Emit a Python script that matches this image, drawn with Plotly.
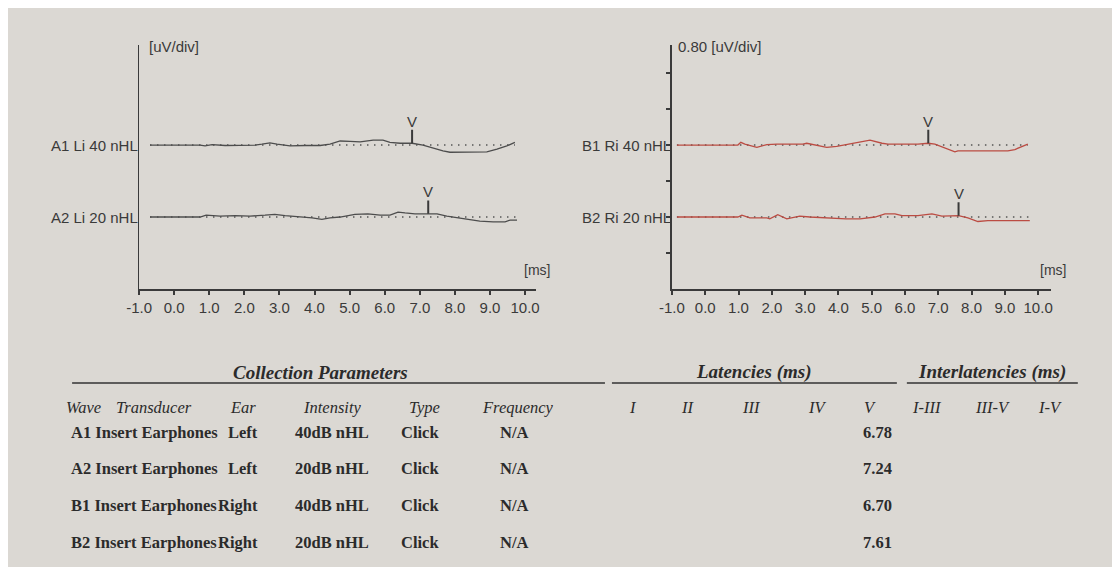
import numpy as np
import plotly.graph_objects as go

# ---------------- data ----------------
UV_PER_DIV = 0.80
ms_ticks = [-1.0, 0.0, 1.0, 2.0, 3.0, 4.0, 5.0, 6.0, 7.0, 8.0, 9.0, 10.0]
ms_tick_labels = ["-1.0", "0.0", "1.0", "2.0", "3.0", "4.0", "5.0", "6.0", "7.0", "8.0", "9.0", "10.0"]

# waveform samples (time in ms, amplitude deviation in uV)
a1_ms = [-0.69, -0.12, 0.74, 0.88, 1.08, 1.45, 1.88, 2.30, 2.50, 2.73, 2.93, 3.30, 3.73, 4.16, 4.44,
         4.73, 5.01, 5.30, 5.67, 5.95, 6.15, 6.44, 6.72, 6.78, 7.09, 7.29, 7.66, 7.86, 8.29, 8.57,
         8.91, 9.20, 9.48, 9.71]
a1_uv = [0.00, 0.00, 0.00, -0.02, 0.01, -0.01, -0.01, 0.00, 0.02, 0.05, 0.02, -0.02, -0.01, -0.01, 0.02,
         0.09, 0.08, 0.07, 0.11, 0.11, 0.06, 0.04, 0.04, 0.04, 0.00, -0.05, -0.13, -0.16, -0.16, -0.16,
         -0.15, -0.09, -0.02, 0.06]

a2_ms = [-0.69, 0.74, 0.91, 1.31, 1.74, 2.16, 2.59, 2.87, 3.16, 3.59, 3.93, 4.21, 4.44, 4.73, 5.15,
         5.52, 5.87, 6.15, 6.38, 6.58, 6.86, 7.24, 7.49, 7.77, 8.23, 8.71, 9.09, 9.43, 9.57, 9.77]
a2_uv = [0.00, 0.00, 0.04, 0.02, 0.03, 0.02, 0.04, 0.06, 0.03, 0.01, -0.02, -0.05, -0.02, 0.00, 0.06,
         0.07, 0.04, 0.04, 0.11, 0.09, 0.07, 0.07, 0.07, 0.02, -0.04, -0.09, -0.11, -0.11, -0.07, -0.07]

b1_ms = [-0.85, 0.98, 1.07, 1.19, 1.55, 1.85, 2.15, 2.93, 3.05, 3.35, 3.65, 3.95, 4.50, 4.95, 5.31,
         5.49, 6.39, 6.60, 6.70, 6.90, 7.11, 7.50, 7.59, 9.09, 9.30, 9.51, 9.69]
b1_uv = [0.00, 0.00, 0.06, 0.02, -0.05, 0.01, 0.02, 0.02, 0.04, 0.00, -0.05, -0.03, 0.04, 0.11, 0.04,
         0.02, 0.02, 0.04, 0.04, 0.02, -0.04, -0.15, -0.13, -0.13, -0.10, -0.04, 0.02]

b2_ms = [-0.85, 0.98, 1.10, 1.34, 1.85, 1.94, 2.18, 2.45, 2.84, 3.14, 4.23, 4.65, 5.10, 5.40, 5.70,
         5.91, 6.39, 6.81, 7.11, 7.41, 7.61, 7.89, 8.19, 8.49, 9.21, 9.51, 9.75]
b2_uv = [0.00, 0.00, 0.04, -0.02, -0.02, -0.04, 0.05, -0.04, 0.02, 0.00, -0.04, -0.04, 0.00, 0.07, 0.07,
         0.03, 0.03, 0.07, 0.02, 0.02, 0.03, -0.02, -0.10, -0.08, -0.08, -0.07, -0.08]

# table data
waves = ["A1", "A2", "B1", "B2"]
transducers = ["Insert Earphones"] * 4
ears = ["Left", "Left", "Right", "Right"]
intensities = ["40dB nHL", "20dB nHL", "40dB nHL", "20dB nHL"]
stim_types = ["Click", "Click", "Click", "Click"]
frequencies = ["N/A", "N/A", "N/A", "N/A"]
latency_v = [6.78, 7.24, 6.70, 7.61]
trace_labels = ["A1 Li 40 nHL", "A2 Li 20 nHL", "B1 Ri 40 nHL", "B2 Ri 20 nHL"]

# ---------------- styling ----------------
OFF = 8                      # page margin of the host page
W, H = 1120 - OFF, 567 - OFF
XS, XB = 0.985, 13.0         # horizontal placement calibration
BG = "#dbd8d3"
INK = "#3a3a3a"
BLACK_TRACE = "#4d4d4d"
RED_TRACE = "#bb4c43"
SANS = "Liberation Sans, Arial, sans-serif"
SERIF = "Liberation Serif, Times New Roman, serif"


def PX(x):
    xc = (x - XB) / XS
    return (xc - OFF) / W


def PY(y):
    return 1 - (y - OFF) / H


series = [
    dict(ms=a1_ms, uv=a1_uv, lat=latency_v[0], level=4, panel=1, color=BLACK_TRACE),
    dict(ms=a2_ms, uv=a2_uv, lat=latency_v[1], level=2, panel=1, color=BLACK_TRACE),
    dict(ms=b1_ms, uv=b1_uv, lat=latency_v[2], level=4, panel=2, color=RED_TRACE),
    dict(ms=b2_ms, uv=b2_uv, lat=latency_v[3], level=2, panel=2, color=RED_TRACE),
]

fig = go.Figure()
annotations = []
STEM = 0.30  # uV

for i, s in enumerate(series):
    xa = "x" if s["panel"] == 1 else "x2"
    ya = "y" if s["panel"] == 1 else "y2"
    base = s["level"] * UV_PER_DIV
    ms = np.array(s["ms"])
    y = base + np.array(s["uv"])
    fig.add_trace(go.Scatter(x=[ms[0], ms[-1]], y=[base, base], mode="lines", xaxis=xa, yaxis=ya,
                             line=dict(color="#555555", width=1.6, dash="1.5px,5.5px"),
                             hoverinfo="skip", showlegend=False))
    fig.add_trace(go.Scatter(x=ms, y=y, mode="lines", xaxis=xa, yaxis=ya,
                             line=dict(color=s["color"], width=1.3),
                             hoverinfo="skip", showlegend=False))
    yv = float(np.interp(s["lat"], ms, y))
    fig.add_trace(go.Scatter(x=[s["lat"], s["lat"]], y=[yv, yv + STEM], mode="lines", xaxis=xa, yaxis=ya,
                             line=dict(color=INK, width=2), hoverinfo="skip", showlegend=False))
    annotations.append(dict(x=s["lat"], y=yv + STEM, xref=xa, yref=ya, text="V", showarrow=False,
                            xanchor="center", yanchor="bottom", yshift=-2,
                            font=dict(family=SANS, size=15, color=INK)))
    annotations.append(dict(x=-1.0, y=base, xref=xa, yref=ya, text=trace_labels[i], showarrow=False,
                            xanchor="right", yanchor="middle", xshift=1,
                            font=dict(family=SANS, size=15, color=INK)))

annotations += [
    dict(x=PX(147), y=PY(46), xref="paper", yref="paper", text="[uV/div]", showarrow=False,
         xanchor="left", yanchor="middle", font=dict(family=SANS, size=15, color=INK)),
    dict(x=PX(676), y=PY(46), xref="paper", yref="paper", text="0.80 [uV/div]", showarrow=False,
         xanchor="left", yanchor="middle", font=dict(family=SANS, size=15, color=INK)),
    dict(x=PX(522), y=PY(270), xref="paper", yref="paper", text="[ms]", showarrow=False,
         xanchor="left", yanchor="middle", font=dict(family=SANS, size=14, color=INK)),
    dict(x=PX(1038), y=PY(270), xref="paper", yref="paper", text="[ms]", showarrow=False,
         xanchor="left", yanchor="middle", font=dict(family=SANS, size=14, color=INK)),
]


# ---------------- table ----------------
def tx(x, y, text, anchor="left", size=16.5, bold=False, italic=False):
    t = text
    if italic:
        t = f"<i>{t}</i>"
    if bold:
        t = f"<b>{t}</b>"
    annotations.append(dict(x=PX(x), y=PY(y), xref="paper", yref="paper", text=t, showarrow=False,
                            xanchor=anchor, yanchor="middle",
                            font=dict(family=SERIF, size=size, color="#2b2b2b")))


tx(320, 372, "Collection Parameters", "center", 19, True, True)
tx(754, 372, "Latencies (ms)", "center", 19, True, True)
tx(992, 372, "Interlatencies (ms)", "center", 19, True, True)

hdr_y = 407
tx(64, hdr_y, "Wave", "left", 16.5, False, True)
tx(114, hdr_y, "Transducer", "left", 16.5, False, True)
tx(243, hdr_y, "Ear", "center", 16.5, False, True)
tx(332, hdr_y, "Intensity", "center", 16.5, False, True)
tx(424, hdr_y, "Type", "center", 16.5, False, True)
tx(518, hdr_y, "Frequency", "center", 16.5, False, True)
for name, xc in zip(["I", "II", "III", "IV", "V", "I-III", "III-V", "I-V"],
                    [633, 688, 752, 817, 870, 927, 993, 1050]):
    tx(xc, hdr_y, name, "center", 16.5, False, True)

row_y = [432, 468, 505, 542]
for r in range(4):
    yy = row_y[r]
    tx(69, yy, f"{waves[r]} {transducers[r]}", "left", 16.5, True)
    tx(260, yy, ears[r], "right", 16.5, True)
    tx(332, yy, intensities[r], "center", 16.5, True)
    tx(420, yy, stim_types[r], "center", 16.5, True)
    tx(515, yy, frequencies[r], "center", 16.5, True)
    tx(878, yy, f"{latency_v[r]:.2f}", "center", 16.5, True)

shapes = [
    dict(type="line", xref="paper", yref="paper", x0=PX(72), x1=PX(605), y0=PY(383), y1=PY(383),
         line=dict(color="#333333", width=1.5)),
    dict(type="line", xref="paper", yref="paper", x0=PX(612), x1=PX(897), y0=PY(383), y1=PY(383),
         line=dict(color="#333333", width=1.5)),
    dict(type="line", xref="paper", yref="paper", x0=PX(907), x1=PX(1078), y0=PY(383), y1=PY(383),
         line=dict(color="#333333", width=1.5)),
]

# ---------------- axes ----------------
y_dom = [PY(289), PY(45)]
y_rng = [0, 6.78 * UV_PER_DIV]
left_px_per_ms, right_px_per_ms = 35.1, 33.3
x1_rng = [-1.0, 10.3]
x2_rng = [-1.0, 10.4]
x1_dom = [PX(139), PX(139 + (x1_rng[1] - x1_rng[0]) * left_px_per_ms)]
x2_dom = [PX(672), PX(672 + (x2_rng[1] - x2_rng[0]) * right_px_per_ms)]

xcommon = dict(tickvals=ms_ticks, ticktext=ms_tick_labels, showline=True, linecolor=INK, linewidth=1.6,
               ticks="outside", ticklen=4, tickwidth=1.5, tickcolor=INK, showgrid=False, zeroline=False,
               tickfont=dict(family=SANS, size=15, color=INK), fixedrange=True)

fig.update_layout(
    width=W, height=H, margin=dict(l=0, r=0, t=0, b=0),
    paper_bgcolor=BG, plot_bgcolor=BG, showlegend=False,
    xaxis=dict(domain=x1_dom, range=x1_rng, anchor="y", **xcommon),
    yaxis=dict(domain=y_dom, range=y_rng, anchor="x", showline=True, linecolor=INK, linewidth=1.4,
               showticklabels=False, ticks="", showgrid=False, zeroline=False, fixedrange=True),
    xaxis2=dict(domain=x2_dom, range=x2_rng, anchor="y2", **xcommon),
    yaxis2=dict(domain=y_dom, range=y_rng, anchor="x2", showline=True, linecolor=INK, linewidth=2,
                tickvals=[k * UV_PER_DIV for k in range(1, 7)], ticks="outside", ticklen=4,
                tickwidth=1.5, tickcolor=INK, showticklabels=False, showgrid=False, zeroline=False,
                fixedrange=True),
    annotations=annotations,
    shapes=shapes,
)

fig.write_html("out.html")
